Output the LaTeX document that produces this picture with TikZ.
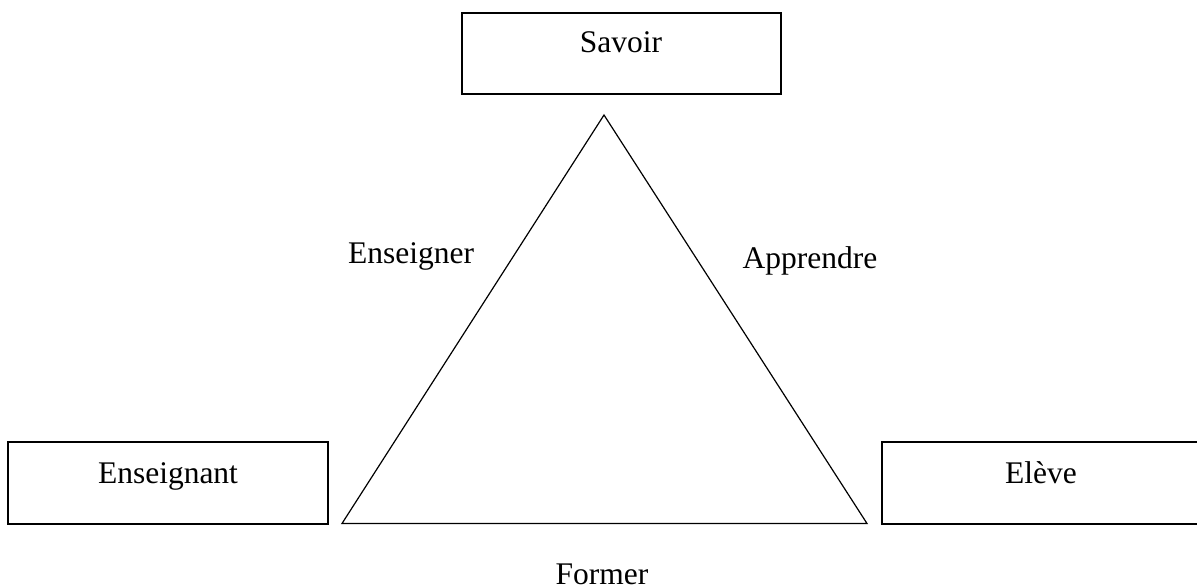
\documentclass[tikz,border=0pt]{standalone}
\usepackage{fontspec}
\setmainfont{Liberation Serif}
\tikzset{
  boxnode/.style={draw=black, line width=1.5pt, rectangle, inner sep=0pt},
  lbl/.style={anchor=base, inner sep=0pt, font=\fontsize{31.5}{38}\selectfont},
  triline/.style={draw=black, line width=1.2pt, line join=miter}
}
\begin{document}
\begin{tikzpicture}[x=1pt, y=-1pt]
\useasboundingbox (0,0) rectangle (1197,588);
\clip (0,0) rectangle (1197,588);
% boxes
\node[boxnode, minimum width=319pt, minimum height=81pt] (savoir) at (621.5,53.5) {};
\node[boxnode, minimum width=320pt, minimum height=82pt] (enseignant) at (168,483) {};
\node[boxnode, minimum width=330pt, minimum height=82pt] (eleve) at (1047,483) {};
% box texts
\node[lbl] (tsavoir) at (621,53) {Savoir};
\node[lbl] (tenseignant) at (168,483) {Enseignant};
\node[lbl] (televe) at (1041,483) {Elève};
% triangle
\coordinate (apex) at (604,115);
\coordinate (bl) at (342,523.5);
\coordinate (br) at (867,523.5);
\draw[triline] (apex) -- (bl) -- (br) -- cycle;
% edge labels
\node[lbl] (enseigner) at (411,264) {Enseigner};
\node[lbl] (apprendre) at (810,269) {Apprendre};
\node[lbl] (former) at (602,584) {Former};
\end{tikzpicture}
\end{document}
